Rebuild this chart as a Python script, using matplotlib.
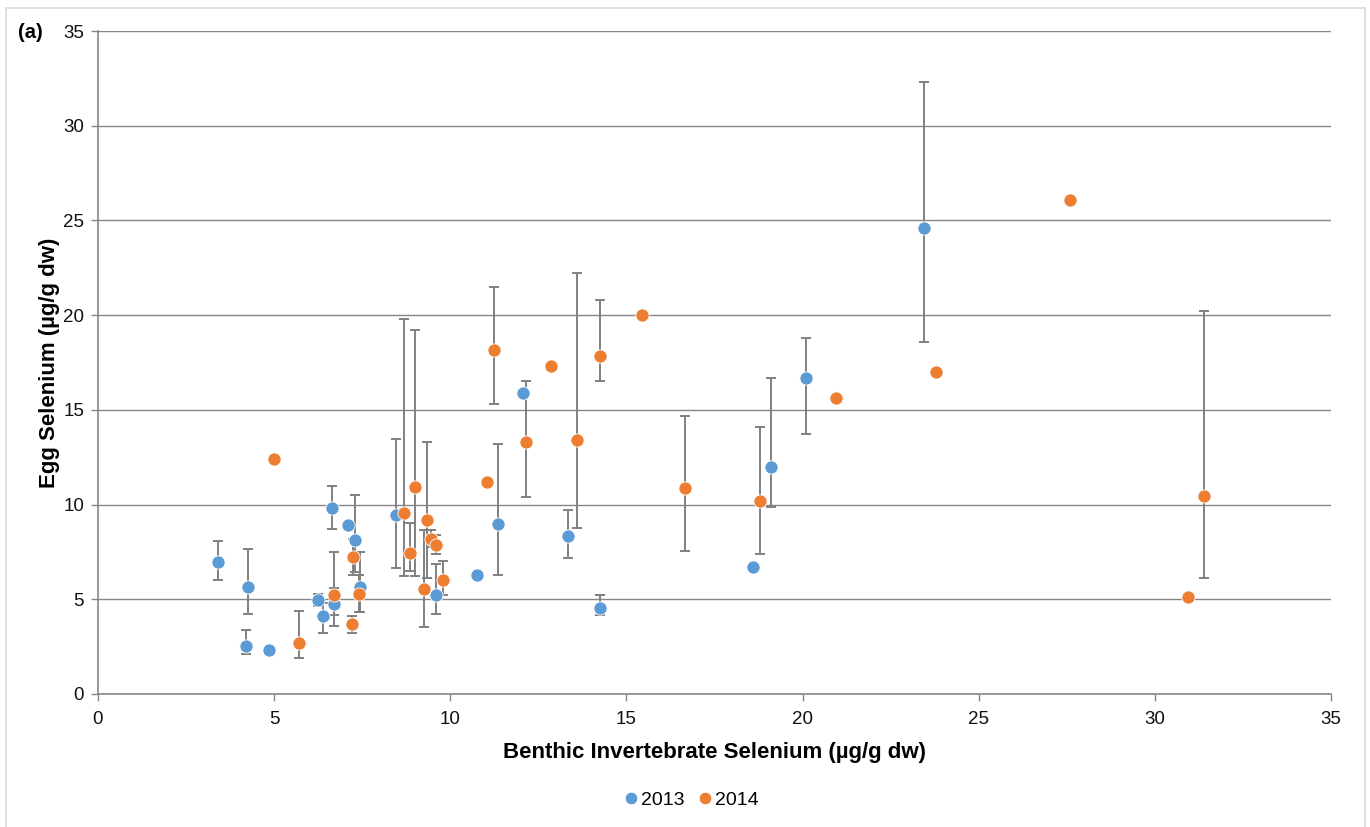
import matplotlib.pyplot as plt
import numpy as np
from matplotlib.patches import Rectangle

nan = np.nan

# 2013 sampling: invertebrate Se vs mean egg Se, with min/max range
inv_2013 = [3.4, 4.25, 4.2, 4.85, 6.25, 6.4, 6.7, 6.65, 7.1, 7.3, 7.45, 8.45,
            9.6, 10.75, 11.35, 12.05, 13.35, 14.25, 18.6, 19.1, 20.1, 23.45]
egg_2013 = [6.95, 5.65, 2.55, 2.3, 4.95, 4.1, 4.75, 9.8, 8.9, 8.15, 5.65, 9.45,
            5.25, 6.3, 9.0, 15.9, 8.35, 4.55, 6.7, 12.0, 16.7, 24.6]
low_2013 = [6.0, 4.2, 2.1, nan, 4.65, 3.2, 4.15, 8.7, nan, 6.45, 4.35, 6.65,
            4.2, nan, 6.3, nan, 7.2, 4.15, nan, 9.85, 13.7, 18.6]
high_2013 = [8.1, 7.65, 3.4, nan, 5.3, 4.8, 5.6, 11.0, nan, 10.5, 7.5, 13.45,
             6.85, nan, 13.2, nan, 9.7, 5.25, nan, 16.7, 18.8, 32.3]

# 2014 sampling
inv_2014 = [5.0, 5.7, 6.7, 7.2, 7.25, 7.4, 8.7, 8.85, 9.0, 9.25, 9.35, 9.45,
            9.6, 9.8, 11.05, 11.25, 12.15, 12.85, 13.6, 14.25, 15.45, 16.65,
            18.8, 20.95, 23.8, 27.6, 30.95, 31.4]
egg_2014 = [12.4, 2.7, 5.25, 3.7, 7.25, 5.3, 9.55, 7.45, 10.95, 5.55, 9.2, 8.2,
            7.85, 6.0, 11.2, 18.15, 13.3, 17.3, 13.4, 17.85, 20.0, 10.9,
            10.2, 15.6, 17.0, 26.1, 5.1, 10.45]
low_2014 = [nan, 1.9, 3.6, 3.2, 6.3, 4.35, 6.25, 6.5, 6.25, 3.55, 6.15, 7.75,
            7.4, 5.25, nan, 15.3, 10.4, nan, 8.75, 16.5, nan, 7.55,
            7.4, nan, nan, nan, nan, 6.15]
high_2014 = [nan, 4.4, 7.5, 4.1, 8.2, 6.3, 19.8, 9.05, 19.2, 8.65, 13.3, 8.65,
             8.4, 7.0, nan, 21.5, 16.5, nan, 22.2, 20.8, nan, 14.7,
             14.1, nan, nan, nan, nan, 20.2]

years = ['2013', '2014']
colours = ['#5B9BD5', '#ED7D31']

plt.rcParams['font.family'] = ['Liberation Sans', 'DejaVu Sans']

fig = plt.figure(figsize=(13.7, 8.27), dpi=100)
ax = fig.add_axes([98 / 1370, 133 / 827, 1233 / 1370, 663 / 827])

# light chart-area border
fig.patches.append(Rectangle((6 / 1370, -0.02), 1359 / 1370, 1.0 - 8 / 827 + 0.02,
                             transform=fig.transFigure, fill=False,
                             edgecolor='#d9d9d9', linewidth=1.2))

series = [(inv_2013, egg_2013, low_2013, high_2013),
          (inv_2014, egg_2014, low_2014, high_2014)]

for (x, y, lo, hi), label, colour in zip(series, years, colours):
    x = np.array(x)
    y = np.array(y)
    lo = np.array(lo)
    hi = np.array(hi)
    has_err = ~np.isnan(lo)
    ax.errorbar(x[has_err], y[has_err],
                yerr=[y[has_err] - lo[has_err], hi[has_err] - y[has_err]],
                fmt='none', ecolor='#808080', elinewidth=1.4, capsize=3.5,
                capthick=1.4, zorder=3)
    ax.plot(x, y, 'o', color=colour, markersize=9.5, markeredgecolor='white',
            markeredgewidth=0.6, label=label, zorder=4)

ax.set_xlim(0, 35)
ax.set_ylim(0, 35)
ax.set_xticks(np.arange(0, 36, 5))
ax.set_yticks(np.arange(0, 36, 5))
ax.grid(axis='y', color='#868686', linewidth=1.0)
ax.set_axisbelow(True)

for side in ['top', 'right']:
    ax.spines[side].set_visible(False)
for side in ['left', 'bottom']:
    ax.spines[side].set_color('#868686')
    ax.spines[side].set_linewidth(1.2)
ax.tick_params(axis='both', length=5, width=1.0, color='#868686',
               labelsize=13.5, labelcolor='#111111', pad=5)
ax.tick_params(axis='x', pad=7)

ax.set_xlabel('Benthic Invertebrate Selenium (µg/g dw)', fontsize=16,
              fontweight='bold', labelpad=10)
ax.set_ylabel('Egg Selenium (µg/g dw)', fontsize=16, fontweight='bold',
              labelpad=2)

fig.text(18 / 1370, 1 - 33 / 827, '(a)', fontsize=14.5, fontweight='bold',
         va='center', ha='left')

fig.legend(loc='center', bbox_to_anchor=(690 / 1370, 1 - 800 / 827), ncol=2,
           frameon=False, fontsize=14, handletextpad=0.0, columnspacing=0.6,
           markerscale=0.95, handlelength=1.0)

fig.savefig('out.png', dpi=100)
